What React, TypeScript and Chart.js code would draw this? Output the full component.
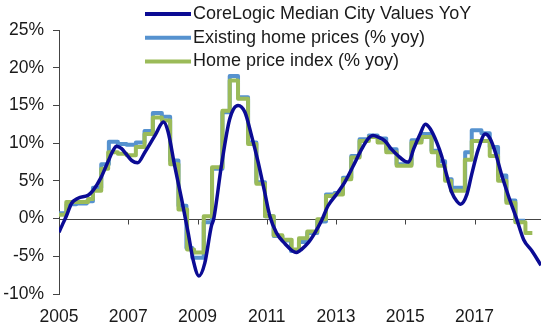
import { useEffect, useRef } from 'react';
import { Chart, registerables } from 'chart.js';

Chart.register(...registerables);

// ---- Data ----
const tickYears = [2005, 2007, 2009, 2011, 2013, 2015, 2017];

const seriesLabels = [
  'CoreLogic Median City Values YoY',
  'Existing home prices (% yoy)',
  'Home price index (% yoy)',
];
const seriesColors = ['#0b0b94', '#5692cf', '#9bbb59'];

// CoreLogic Median City Values YoY (smooth monthly line, sampled at readable points)
const clYears = [
  2005.0, 2005.1, 2005.21, 2005.36, 2005.55, 2005.84, 2005.98, 2006.22, 2006.42, 2006.56,
  2006.66, 2006.8, 2006.95, 2007.1, 2007.27, 2007.48, 2007.77, 2008.02, 2008.15, 2008.34,
  2008.54, 2008.73, 2008.87, 2009.04, 2009.21, 2009.4, 2009.47, 2009.69, 2009.93, 2010.17,
  2010.37, 2010.56, 2010.75, 2010.94, 2011.09, 2011.28, 2011.52, 2011.85, 2012.0, 2012.2,
  2012.39, 2012.58, 2012.77, 2013.01, 2013.25, 2013.5, 2013.74, 2013.93, 2014.07, 2014.22,
  2014.41, 2014.6, 2014.8, 2014.99, 2015.1, 2015.24, 2015.43, 2015.58, 2015.72, 2015.91,
  2016.05, 2016.2, 2016.34, 2016.49, 2016.6, 2016.78, 2016.92, 2017.11, 2017.31, 2017.45,
  2017.6, 2017.79, 2017.98, 2018.22, 2018.42, 2018.66, 2018.92,
];
const clValues = [
  -1.8, -0.8, 0.3, 2.0, 2.7, 3.1, 3.7, 5.5, 7.6, 9.0,
  9.6, 9.3, 8.5, 7.7, 7.4, 8.8, 11.0, 12.8, 11.5, 7.0,
  2.6, -1.9, -5.4, -7.6, -5.9, -1.0, 0.0, 7.0, 13.2, 15.0,
  14.1, 11.0, 7.5, 3.5, 0.3, -1.9, -3.3, -4.5, -4.1, -3.2,
  -1.9, -0.3, 1.7, 3.2, 4.8, 7.0, 9.2, 10.6, 11.0, 10.8,
  10.3, 9.2, 8.3, 7.6, 7.5, 9.2, 11.2, 12.5, 11.9, 10.1,
  8.3, 5.7, 3.5, 2.3, 1.9, 3.2, 5.9, 9.2, 11.2, 10.6,
  8.8, 5.7, 3.0, -0.1, -2.8, -4.3, -6.2,
];

// Existing home prices (% yoy): step series, value holds from each date to the next
const ehpYears = [
  2005.0, 2005.22, 2005.5, 2005.8, 2005.98, 2006.22, 2006.44, 2006.7, 2006.95, 2007.22,
  2007.47, 2007.71, 2007.97, 2008.21, 2008.45, 2008.68, 2008.85, 2009.18, 2009.42, 2009.72,
  2009.93, 2010.17, 2010.46, 2010.7, 2010.95, 2011.2, 2011.45, 2011.7, 2011.93, 2012.17,
  2012.46, 2012.71, 2012.96, 2013.2, 2013.44, 2013.68, 2013.95, 2014.2, 2014.45, 2014.75,
  2015.18, 2015.47, 2015.76, 2015.95, 2016.15, 2016.34, 2016.73, 2016.92, 2017.2, 2017.44,
  2017.68, 2017.92, 2018.18, 2018.46,
];
const ehpValues = [
  0.7, 1.9, 2.0, 2.3, 4.1, 7.2, 10.2, 9.9, 9.8, 10.1,
  11.6, 14.0, 13.5, 7.7, 1.7, -3.9, -5.2, -0.5, 6.6, 14.1,
  18.9, 16.1, 10.1, 4.8, 0.3, -2.3, -2.9, -4.3, -3.1, -1.9,
  -0.4, 3.2, 3.4, 5.4, 8.3, 10.5, 11.0, 10.6, 9.2, 7.2,
  10.4, 11.2, 9.0, 7.6, 5.2, 4.1, 8.8, 11.7, 11.3, 9.5,
  5.7, 2.4, -0.3, -0.3,
];

// Home price index (% yoy): step series
const hpiYears = [
  2005.0, 2005.21, 2005.84, 2005.98, 2006.22, 2006.42, 2006.7, 2006.95, 2007.22, 2007.47,
  2007.71, 2007.97, 2008.21, 2008.45, 2008.7, 2008.9, 2009.18, 2009.42, 2009.72, 2009.93,
  2010.17, 2010.46, 2010.7, 2010.95, 2011.2, 2011.45, 2011.72, 2011.93, 2012.17, 2012.46,
  2012.71, 2012.96, 2013.2, 2013.44, 2013.68, 2013.95, 2014.2, 2014.45, 2014.75, 2015.18,
  2015.47, 2015.76, 2015.95, 2016.15, 2016.32, 2016.72, 2016.92, 2017.44, 2017.68, 2017.92,
  2018.18, 2018.47, 2018.67,
];
const hpiValues = [
  0.5, 2.2, 2.6, 3.7, 6.6, 8.8, 8.6, 8.4, 9.5, 11.2,
  13.4, 13.0, 7.2, 1.2, -4.1, -4.5, 0.3, 6.8, 14.3, 18.3,
  15.9, 9.9, 4.6, 0.3, -2.2, -2.8, -4.1, -2.6, -1.7, -0.1,
  3.0, 3.2, 5.2, 8.1, 10.3, 10.8, 10.1, 8.8, 7.0, 10.1,
  10.8, 8.8, 7.0, 5.0, 3.7, 7.8, 10.3, 8.3, 5.0, 2.1,
  -0.5, -1.9, -1.9,
];

const xMin = 2005;
const xMax = 2018.92;
const yMin = -10;
const yMax = 25;
const yStep = 5;

const FONT = '"Liberation Sans", Arial, sans-serif';
const TEXT = '#1a1a1a';
const AXIS = '#444444';

const toPoints = (xs: number[], ys: number[]) => xs.map((x, i) => ({ x, y: ys[i] }));

export default function App() {
  const ref = useRef<HTMLCanvasElement>(null);

  useEffect(() => {
    if (!ref.current) return;

    const zeroAxisPlugin = {
      id: 'zeroAxis',
      beforeDatasetsDraw(chart: any) {
        const { ctx, chartArea, scales } = chart;
        const y0 = Math.round(scales.y.getPixelForValue(0)) + 0.5;
        ctx.save();
        ctx.strokeStyle = AXIS;
        ctx.lineWidth = 1;
        ctx.beginPath();
        ctx.moveTo(chartArea.left, y0);
        ctx.lineTo(chartArea.right, y0);
        tickYears.forEach((t) => {
          const x = Math.round(scales.x.getPixelForValue(t)) + 0.5;
          ctx.moveTo(x, y0);
          ctx.lineTo(x, y0 + 5);
        });
        ctx.stroke();
        ctx.restore();
      },
    };

    const legendPlugin = {
      id: 'lineLegend',
      afterDraw(chart: any) {
        const { ctx } = chart;
        ctx.save();
        seriesLabels.forEach((label, i) => {
          const y = 14 + i * 23.7;
          ctx.strokeStyle = seriesColors[i];
          ctx.lineWidth = 4;
          ctx.lineCap = 'butt';
          ctx.beginPath();
          ctx.moveTo(145, y);
          ctx.lineTo(191, y);
          ctx.stroke();
          ctx.fillStyle = TEXT;
          ctx.font = `18px ${FONT}`;
          ctx.textAlign = 'left';
          ctx.textBaseline = 'middle';
          ctx.fillText(label, 193, y);
        });
        ctx.restore();
      },
    };

    const chart = new Chart(ref.current, {
      type: 'line',
      data: {
        datasets: [
          {
            label: seriesLabels[0],
            data: toPoints(clYears, clValues),
            borderColor: seriesColors[0],
            borderWidth: 3.5,
            pointRadius: 0,
            cubicInterpolationMode: 'monotone',
            borderJoinStyle: 'round',
            order: 0,
          },
          {
            label: seriesLabels[1],
            data: toPoints(ehpYears, ehpValues),
            borderColor: seriesColors[1],
            borderWidth: 4,
            pointRadius: 0,
            stepped: 'before',
            borderJoinStyle: 'round',
            order: 2,
          },
          {
            label: seriesLabels[2],
            data: toPoints(hpiYears, hpiValues),
            borderColor: seriesColors[2],
            borderWidth: 4,
            pointRadius: 0,
            stepped: 'before',
            borderJoinStyle: 'round',
            order: 1,
          },
        ],
      },
      options: {
        responsive: false,
        animation: false,
        layout: { padding: { top: 30, right: 9, left: 0, bottom: 0 } },
        plugins: {
          legend: { display: false },
          tooltip: { enabled: false },
        },
        scales: {
          x: {
            type: 'linear',
            min: xMin,
            max: xMax,
            grid: { display: false },
            border: { display: false },
            afterBuildTicks: (scale: any) => {
              scale.ticks = tickYears.map((v) => ({ value: v }));
            },
            afterFit: (scale: any) => {
              scale.height = 42;
            },
            ticks: {
              autoSkip: false,
              maxRotation: 0,
              padding: 5,
              color: TEXT,
              font: { family: FONT, size: 17.5 },
              callback: (v: any) => String(v),
            },
          },
          y: {
            type: 'linear',
            min: yMin,
            max: yMax,
            grid: {
              display: true,
              drawOnChartArea: false,
              drawTicks: true,
              tickLength: 6,
              color: AXIS,
            },
            border: { display: true, color: AXIS, width: 1 },
            afterFit: (scale: any) => {
              scale.width = 59;
            },
            ticks: {
              stepSize: yStep,
              padding: 9,
              color: TEXT,
              font: { family: FONT, size: 17.5 },
              callback: (v: any) => `${v}%`,
            },
          },
        },
      },
      plugins: [zeroAxisPlugin, legendPlugin],
    });

    return () => chart.destroy();
  }, []);

  return (
    <div style={{ position: 'absolute', left: 0, top: 0, width: 550, height: 336, background: '#fff' }}>
      <canvas ref={ref} width={550} height={336} style={{ display: 'block' }} />
    </div>
  );
}
